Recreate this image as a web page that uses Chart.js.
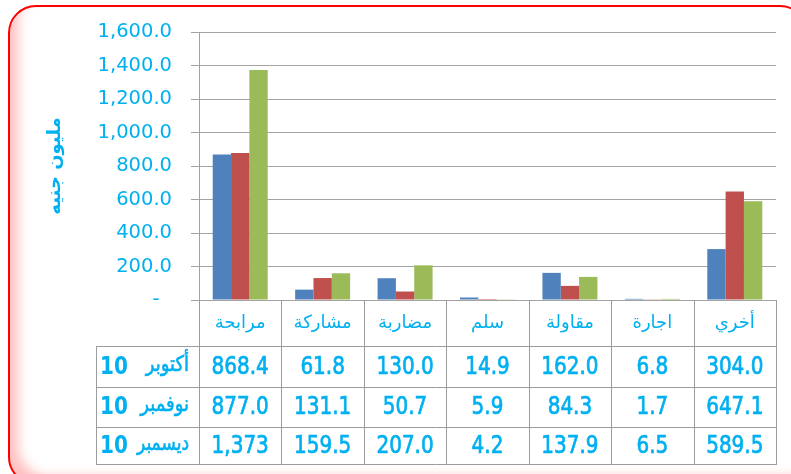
<!DOCTYPE html>
<html>
<head>
<meta charset="utf-8">
<script src="https://cdn.jsdelivr.net/npm/chart.js@4"></script>
<style>
    html, body { margin: 0; padding: 0; background: #ffffff; }
    #wrap { position: relative; width: 791px; height: 474px; overflow: hidden; }
    #frame {
        position: absolute; left: 8px; top: 5px; width: 800px; height: 480px;
        box-sizing: border-box;
        border: 2px solid #ff0000;
        border-radius: 28px;
        box-shadow: inset 14px -12px 12px -6px rgba(255, 140, 140, 0.55);
    }
    #chart { position: absolute; left: 0; top: 0; }
</style>
</head>
<body>
<div id="wrap">
    <div id="frame"></div>
    <canvas id="chart" width="791" height="474"></canvas>
</div>
<script>
const categories = ['مرابحة', 'مشاركة', 'مضاربة', 'سلم', 'مقاولة', 'اجارة', 'أخري'];
const seriesNames = ['أكتوبر 10', 'نوفمبر 10', 'ديسمبر 10'];
const octValues = [868.4, 61.8, 130.0, 14.9, 162.0, 6.8, 304.0];
const novValues = [877.0, 131.1, 50.7, 5.9, 84.3, 1.7, 647.1];
const decValues = [1373, 159.5, 207.0, 4.2, 137.9, 6.5, 589.5];
const yMax = 1600;
const yStep = 200;
const yTitle = 'مليون جنيه';

const COLORS = {
    series: ['#4f81bd', '#c0504d', '#9bbb59'],
    text: '#00b0f0',
    grid: '#a3a3a3',
    table: '#9c9c9c'
};

function formatCell(v) {
    if (v >= 1000) return v.toLocaleString('en-US', { maximumFractionDigits: 0 });
    return v.toFixed(1);
}

// draws the data table under the plot, columns follow the x scale
const dataTable = {
    id: 'dataTable',
    afterDraw(chart) {
        const ctx = chart.ctx;
        const x = chart.scales.x;
        const area = chart.chartArea;
        const n = categories.length;
        const colW = (x.right - x.left) / n;
        const tableLeft = 96;
        const headerBottom = area.bottom + 46;
        const rowLines = [headerBottom, headerBottom + 41, headerBottom + 81, headerBottom + 118];

        ctx.save();
        ctx.strokeStyle = COLORS.table;
        ctx.lineWidth = 1;
        ctx.beginPath();
        for (let i = 0; i <= n; i++) {
            const px = Math.round(x.left + i * colW) + 0.5;
            ctx.moveTo(px, area.bottom);
            ctx.lineTo(px, rowLines[3]);
        }
        ctx.moveTo(tableLeft + 0.5, headerBottom);
        ctx.lineTo(tableLeft + 0.5, rowLines[3]);
        rowLines.forEach(y => {
            ctx.moveTo(tableLeft, y + 0.5);
            ctx.lineTo(x.right + 1, y + 0.5);
        });
        ctx.stroke();

        ctx.fillStyle = COLORS.text;
        ctx.strokeStyle = COLORS.text;
        ctx.textBaseline = 'middle';
        ctx.textAlign = 'center';
        ctx.direction = 'rtl';

        // category header
        ctx.font = '18px "DejaVu Sans"';
        categories.forEach((c, i) => {
            ctx.fillText(c, x.getPixelForValue(i), (area.bottom + headerBottom) / 2);
        });

        // rows: series name then one value per category
        chart.data.datasets.forEach((ds, r) => {
            const cy = (rowLines[r] + rowLines[r + 1]) / 2 + 1;
            const parts = ds.label.split(' ');
            ctx.save();
            ctx.translate(0, cy);
            ctx.scale(1, 1.2);
            ctx.direction = 'ltr';
            ctx.textAlign = 'left';
            ctx.font = 'bold 20px "DejaVu Sans"';
            ctx.fillText(parts[1], 100, 0);
            ctx.direction = 'rtl';
            ctx.textAlign = 'right';
            ctx.font = '18px "DejaVu Sans"';
            ctx.lineWidth = 0.5;
            ctx.fillText(parts[0], 189, -2, 52);
            ctx.strokeText(parts[0], 189, -2, 52);
            ctx.direction = 'ltr';
            ctx.textAlign = 'center';
            ctx.font = '20px "DejaVu Sans"';
            ctx.lineWidth = 0.6;
            ds.data.forEach((v, i) => {
                const s = formatCell(v);
                ctx.fillText(s, x.getPixelForValue(i), 0);
                ctx.strokeText(s, x.getPixelForValue(i), 0);
            });
            ctx.restore();
        });
        ctx.restore();
    }
};

const ctx = document.getElementById('chart').getContext('2d');
new Chart(ctx, {
    type: 'bar',
    data: {
        labels: categories,
        datasets: [octValues, novValues, decValues].map((vals, i) => ({
            label: seriesNames[i],
            data: vals,
            backgroundColor: COLORS.series[i],
            borderWidth: 0,
            categoryPercentage: 0.667,
            barPercentage: 1.0
        }))
    },
    options: {
        responsive: false,
        animation: false,
        layout: { padding: { left: 10, right: 15, top: 32, bottom: 174 } },
        plugins: {
            legend: { display: false },
            tooltip: { enabled: false }
        },
        scales: {
            x: {
                ticks: { display: false },
                grid: { display: false },
                border: { display: false },
                afterFit: s => { s.height = 0; }
            },
            y: {
                min: 0,
                max: yMax,
                ticks: {
                    stepSize: yStep,
                    padding: 19,
                    color: COLORS.text,
                    font: { family: '"DejaVu Sans"', size: 19.5 },
                    callback: v => v === 0 ? '-  ' : v.toLocaleString('en-US', { minimumFractionDigits: 1, maximumFractionDigits: 1 })
                },
                grid: { color: COLORS.grid, tickLength: 8 },
                border: { color: COLORS.grid },
                title: {
                    display: true,
                    text: yTitle,
                    color: COLORS.text,
                    font: { family: '"DejaVu Sans"', size: 18, weight: 'bold' },
                    padding: { top: 35, bottom: 0 }
                },
                afterFit: s => { s.width = 189; }
            }
        }
    },
    plugins: [dataTable]
});
</script>
</body>
</html>
